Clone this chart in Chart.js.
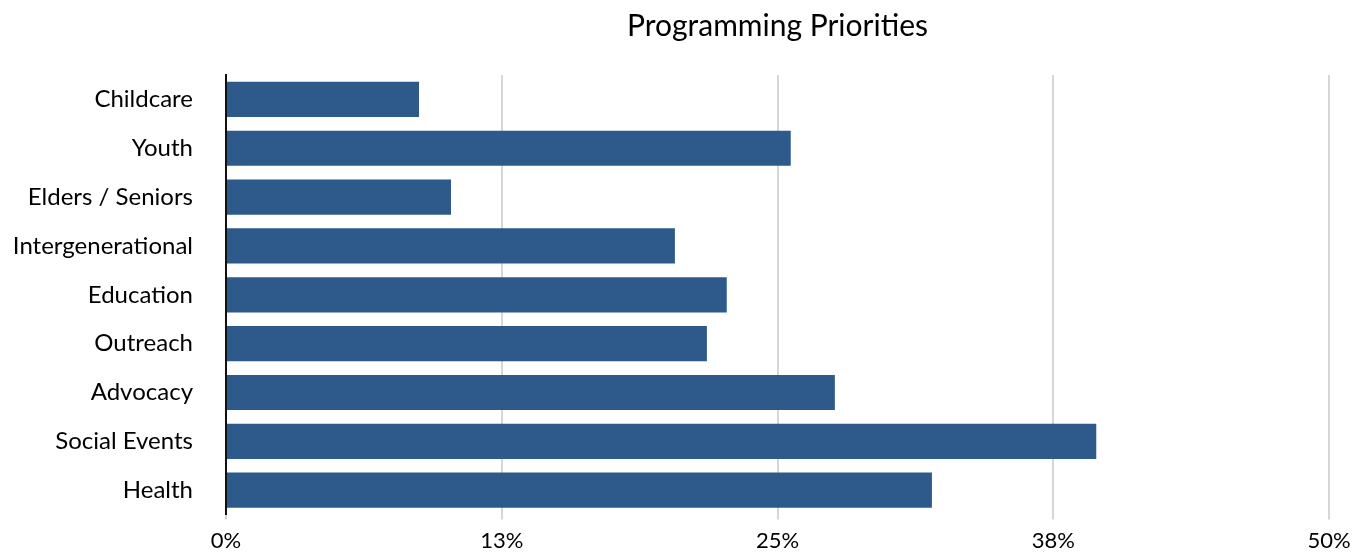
<!DOCTYPE html>
<html>
<head>
<meta charset="utf-8">
<title>Programming Priorities</title>
<script src="https://cdn.jsdelivr.net/npm/chart.js@4/dist/chart.umd.min.js"></script>
<style>
    html, body { margin: 0; padding: 0; background: #fff; }
    #wrap { width: 1366px; height: 554px; position: relative; }
</style>
</head>
<body>
<div id="wrap"><canvas id="priorities-chart"></canvas></div>
<script>
// 各項目名稱與百分比
const categories = ['Childcare', 'Youth', 'Elders / Seniors', 'Intergenerational', 'Education',
    'Outreach', 'Advocacy', 'Social Events', 'Health'];
const shares = [8.75, 25.6, 10.2, 20.35, 22.7, 21.8, 27.6, 39.45, 32.0];
const tickValues = [0, 12.5, 25, 37.5, 50];
const chartTitle = 'Programming Priorities';

const FONT = 'Lato, "DejaVu Sans", sans-serif';
const barColor = '#2E5A8B';

// 標題置中於繪圖區（而非整張畫布）
const centeredTitle = {
    id: 'centeredTitle',
    afterDraw(chart) {
        const { ctx, chartArea } = chart;
        ctx.save();
        ctx.font = '30px ' + FONT;
        ctx.fillStyle = '#000';
        ctx.textAlign = 'center';
        ctx.textBaseline = 'middle';
        ctx.fillText(chartTitle, (chartArea.left + chartArea.right) / 2, 26);
        ctx.restore();
    }
};

const canvas = document.getElementById('priorities-chart');

new Chart(canvas, {
    type: 'bar',
    data: {
        labels: categories,
        datasets: [{
            label: chartTitle,
            data: shares,
            backgroundColor: barColor,
            borderWidth: 0,
            barPercentage: 0.72,
            categoryPercentage: 1,
        }]
    },
    options: {
        indexAxis: 'y',
        responsive: true,
        maintainAspectRatio: false,
        animation: false,
        layout: { padding: { top: 75, right: 37, bottom: 0, left: 0 } },
        plugins: {
            legend: { display: false },
            title: { display: false },
            tooltip: { enabled: false }
        },
        scales: {
            x: {
                min: 0,
                max: 50,
                afterBuildTicks: scale => {
                    scale.ticks = tickValues.map(v => ({ value: v }));
                },
                afterFit: scale => { scale.height = 35; },
                grid: {
                    color: '#d6d6d6',
                    lineWidth: 2,
                    drawTicks: true,
                    tickLength: 5,
                },
                border: { display: false },
                ticks: {
                    padding: 8,
                    color: '#000',
                    font: { family: FONT, size: 22 },
                    maxRotation: 0,
                    callback: value => Math.round(value) + '%'
                }
            },
            y: {
                afterFit: scale => { scale.width = 226; },
                grid: { display: false },
                border: { display: true, color: '#111', width: 2 },
                ticks: {
                    padding: 25,
                    color: '#000',
                    font: { family: FONT, size: 24 }
                }
            }
        }
    },
    plugins: [centeredTitle]
});
</script>
</body>
</html>
